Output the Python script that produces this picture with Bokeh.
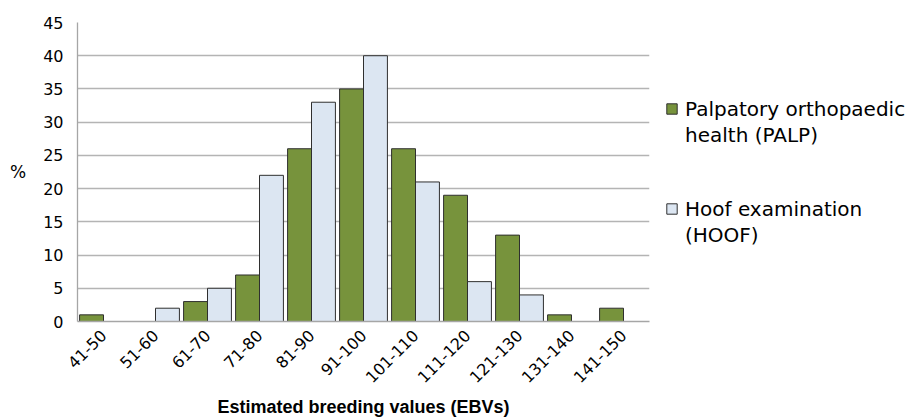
from math import pi
from bokeh.plotting import figure
from bokeh.models import FactorRange, Legend, LegendItem, ColumnDataSource, FixedTicker
from bokeh.transform import dodge
from bokeh.embed import file_html
from bokeh.resources import INLINE

categories = ["41-50", "51-60", "61-70", "71-80", "81-90", "91-100",
              "101-110", "111-120", "121-130", "131-140", "141-150"]
palp = [1, 0, 3, 7, 26, 35, 26, 19, 13, 1, 2]
hoof = [0, 2, 5, 22, 33, 40, 21, 6, 4, 0, 0]
y_ticks = [0, 5, 10, 15, 20, 25, 30, 35, 40, 45]
palp_lines = ["Palpatory orthopaedic", "health (PALP)"]
hoof_lines = ["Hoof examination", "(HOOF)"]
x_title = "Estimated breeding values (EBVs)"
y_title = "%"

src = ColumnDataSource(dict(cat=categories, palp=palp, hoof=hoof))

p = figure(x_range=FactorRange(*categories, range_padding=0), y_range=(0, 45),
           frame_width=572, frame_height=299, output_backend="svg", toolbar_location=None,
           min_border_left=77, min_border_right=0, min_border_top=22,
           min_border_bottom=96)

r1 = p.vbar(x=dodge("cat", -0.23, range=p.x_range), top="palp", width=0.46, source=src,
            fill_color="#77933C", line_color="#2f2f2f", line_width=1)
r2 = p.vbar(x=dodge("cat", 0.23, range=p.x_range), top="hoof", width=0.46, source=src,
            fill_color="#DCE6F2", line_color="#2f2f2f", line_width=1)
blank = p.vbar(x=[], top=[], width=0.46, fill_alpha=0, line_alpha=0)

p.outline_line_color = None
p.xgrid.grid_line_color = None
p.ygrid.grid_line_color = "#b4b4b4"
p.ygrid.grid_line_width = 1.3
p.yaxis.ticker = FixedTicker(ticks=y_ticks)

for ax in (p.xaxis[0], p.yaxis[0]):
    ax.axis_line_color = "#a6a6a6"
    ax.axis_line_width = 1.3
    ax.major_tick_line_color = None
    ax.minor_tick_line_color = None
    ax.major_tick_out = 0
    ax.major_tick_in = 0
    ax.major_label_text_color = "#000000"
    ax.axis_label_text_color = "#000000"

p.yaxis.major_label_text_font = "DejaVu Sans"
p.yaxis.major_label_text_font_size = "16px"
p.yaxis.major_label_standoff = 14
p.yaxis.axis_label = y_title
p.yaxis.axis_label_orientation = "horizontal"
p.yaxis.axis_label_text_font = "DejaVu Sans"
p.yaxis.axis_label_text_font_size = "17px"
p.yaxis.axis_label_text_font_style = "normal"
p.yaxis.axis_label_standoff = 14

p.xaxis.major_label_orientation = pi / 4
p.xaxis.major_label_text_font = "DejaVu Sans"
p.xaxis.major_label_text_font_size = "16px"
p.xaxis.major_label_standoff = 11
p.xaxis.axis_label = x_title
p.xaxis.axis_label_text_font = "Liberation Sans"
p.xaxis.axis_label_text_font_size = "18px"
p.xaxis.axis_label_text_font_style = "bold"
p.xaxis.axis_label_standoff = 6

legend = Legend(items=[LegendItem(label=palp_lines[0], renderers=[r1]),
                       LegendItem(label=palp_lines[1], renderers=[blank]),
                       LegendItem(label=" ", renderers=[blank]),
                       LegendItem(label=" ", renderers=[blank]),
                       LegendItem(label=hoof_lines[0], renderers=[r2]),
                       LegendItem(label=hoof_lines[1], renderers=[blank])],
                location="center_left")
legend.margin = 16
legend.padding = 0
legend.spacing = 2
legend.label_height = 22
legend.glyph_width = 13
legend.glyph_height = 13
legend.label_standoff = 7
legend.label_text_font = "DejaVu Sans"
legend.label_text_font_size = "20px"
legend.label_text_color = "#000000"
legend.border_line_color = None
legend.background_fill_alpha = 0
p.add_layout(legend, "right")

open("out.html", "w").write(file_html(p, INLINE))
